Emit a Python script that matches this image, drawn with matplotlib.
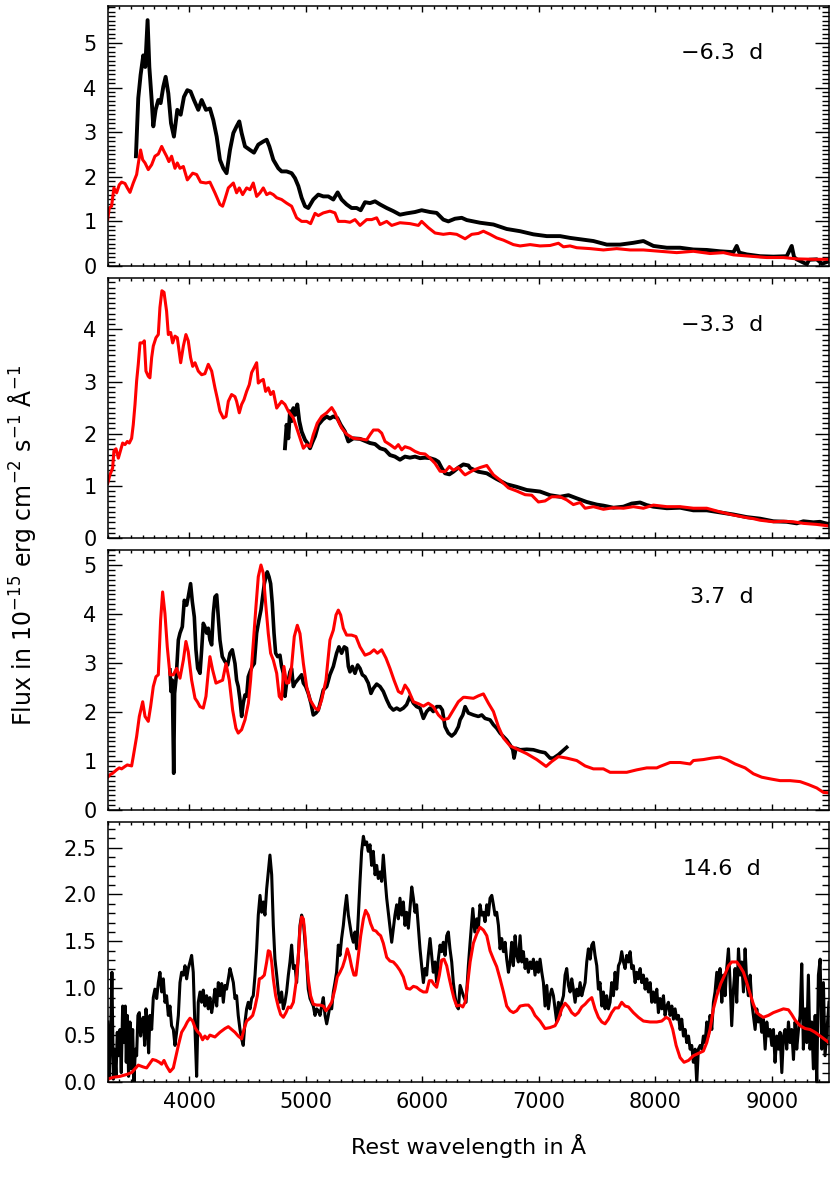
import numpy as np
import matplotlib.pyplot as plt
from matplotlib.ticker import MultipleLocator, FormatStrFormatter

plt.rcParams['font.family'] = ['DejaVu Sans']
plt.rcParams['mathtext.fontset'] = 'dejavusans'

# ---- data: (wavelength [A], flux [1e-15 erg/cm2/s/A]) ----
obs_1 = np.array([
    [3542, 2.46], [3562, 3.76], [3582, 4.28], [3605, 4.72], [3622, 4.46], [3642, 5.51],
    [3657, 4.46], [3677, 3.72], [3691, 3.13], [3711, 3.50], [3734, 3.72], [3754, 3.65],
    [3777, 4.02], [3797, 4.24], [3820, 3.87], [3843, 3.20], [3868, 2.90], [3897, 3.50],
    [3926, 3.39], [3954, 3.79], [3983, 3.94], [4011, 3.91], [4040, 3.72], [4077, 3.50],
    [4106, 3.72], [4143, 3.50], [4177, 3.53], [4206, 3.27], [4235, 2.90], [4263, 2.38],
    [4292, 2.19], [4320, 2.08], [4349, 2.60], [4378, 2.98], [4406, 3.13], [4429, 3.24],
    [4449, 2.98], [4478, 2.68], [4521, 2.60], [4555, 2.54], [4592, 2.72], [4635, 2.79],
    [4664, 2.83], [4687, 2.68], [4721, 2.38], [4764, 2.19], [4792, 2.12], [4835, 2.12],
    [4878, 2.08], [4907, 1.97], [4936, 1.79], [4964, 1.53], [4993, 1.34], [5021, 1.30],
    [5064, 1.49], [5107, 1.60], [5150, 1.56], [5193, 1.56], [5236, 1.49], [5273, 1.65],
    [5307, 1.49], [5350, 1.38], [5393, 1.30], [5436, 1.30], [5471, 1.25], [5508, 1.43],
    [5551, 1.41], [5594, 1.45], [5637, 1.38], [5694, 1.30], [5751, 1.23], [5808, 1.15],
    [5865, 1.18], [5937, 1.21], [5994, 1.25], [6066, 1.21], [6123, 1.19], [6180, 1.04],
    [6223, 1.00], [6280, 1.06], [6338, 1.08], [6381, 1.03], [6495, 0.97], [6610, 0.93],
    [6724, 0.83], [6839, 0.78], [6953, 0.71], [7068, 0.67], [7182, 0.67], [7268, 0.63],
    [7354, 0.60], [7468, 0.56], [7583, 0.48], [7697, 0.48], [7811, 0.52], [7897, 0.56],
    [7983, 0.45], [8098, 0.41], [8212, 0.41], [8326, 0.37], [8441, 0.36], [8555, 0.33],
    [8670, 0.31], [8698, 0.45], [8720, 0.30], [8784, 0.26], [8899, 0.22], [9013, 0.21],
    [9127, 0.22], [9170, 0.45], [9190, 0.20], [9213, 0.15], [9299, 0.04], [9320, 0.14],
    [9385, 0.15], [9430, 0.05], [9471, 0.09], [9490, 0.12],
])
mod_1 = np.array([
    [3300, 1.05], [3313, 1.30], [3333, 1.34], [3353, 1.75], [3376, 1.64], [3399, 1.82],
    [3419, 1.88], [3448, 1.85], [3468, 1.75], [3491, 1.65], [3519, 1.86], [3548, 2.05],
    [3565, 2.34], [3582, 2.60], [3600, 2.38], [3620, 2.31], [3648, 2.16], [3677, 2.27],
    [3705, 2.46], [3734, 2.51], [3763, 2.68], [3783, 2.57], [3805, 2.46], [3825, 2.34],
    [3848, 2.46], [3877, 2.19], [3897, 2.31], [3920, 2.19], [3949, 2.23], [3983, 1.93],
    [4029, 2.08], [4063, 2.05], [4097, 1.88], [4143, 1.86], [4177, 1.88], [4220, 1.64],
    [4263, 1.38], [4286, 1.34], [4306, 1.50], [4335, 1.75], [4378, 1.86], [4406, 1.64],
    [4429, 1.75], [4458, 1.60], [4492, 1.75], [4521, 1.71], [4549, 1.86], [4578, 1.56],
    [4607, 1.64], [4635, 1.75], [4664, 1.60], [4692, 1.64], [4721, 1.60], [4750, 1.53],
    [4792, 1.49], [4835, 1.41], [4878, 1.34], [4921, 1.08], [4964, 1.00], [5007, 1.00],
    [5041, 0.95], [5079, 1.18], [5107, 1.13], [5150, 1.19], [5207, 1.23], [5250, 1.19],
    [5279, 1.00], [5336, 1.00], [5379, 0.98], [5422, 1.04], [5465, 0.91], [5522, 1.04],
    [5565, 1.04], [5608, 1.08], [5637, 0.93], [5694, 1.00], [5737, 0.91], [5808, 0.97],
    [5894, 0.95], [5966, 0.91], [5994, 1.00], [6051, 0.86], [6109, 0.74], [6180, 0.71],
    [6237, 0.73], [6295, 0.71], [6324, 0.67], [6367, 0.61], [6424, 0.71], [6481, 0.73],
    [6524, 0.78], [6581, 0.71], [6638, 0.63], [6696, 0.58], [6781, 0.48], [6839, 0.45],
    [6925, 0.48], [7010, 0.45], [7096, 0.46], [7168, 0.51], [7211, 0.43], [7268, 0.45],
    [7325, 0.41], [7440, 0.39], [7554, 0.36], [7668, 0.39], [7783, 0.36], [7897, 0.36],
    [8040, 0.33], [8183, 0.30], [8326, 0.33], [8469, 0.28], [8584, 0.30], [8670, 0.25],
    [8813, 0.22], [8956, 0.19], [9099, 0.19], [9213, 0.16], [9356, 0.15], [9490, 0.15],
])

obs_2 = np.array([
    [4821, 1.72], [4835, 2.17], [4850, 1.91], [4864, 2.43], [4878, 2.24], [4893, 2.49],
    [4907, 2.36], [4927, 2.56], [4944, 2.24], [4964, 2.04], [4993, 1.88], [5013, 1.82],
    [5036, 1.72], [5059, 1.85], [5079, 1.95], [5107, 2.17], [5145, 2.27], [5179, 2.33],
    [5207, 2.29], [5236, 2.33], [5270, 2.30], [5299, 2.17], [5336, 2.04], [5365, 1.85],
    [5408, 1.91], [5465, 1.90], [5508, 1.86], [5551, 1.82], [5594, 1.80], [5637, 1.72],
    [5680, 1.69], [5722, 1.59], [5765, 1.56], [5808, 1.50], [5851, 1.56], [5894, 1.54],
    [5937, 1.56], [5980, 1.53], [6023, 1.54], [6066, 1.53], [6109, 1.50], [6138, 1.46],
    [6166, 1.34], [6195, 1.24], [6232, 1.22], [6266, 1.27], [6309, 1.35], [6352, 1.41],
    [6395, 1.39], [6410, 1.34], [6481, 1.27], [6553, 1.24], [6638, 1.13], [6724, 1.03],
    [6810, 0.98], [6896, 0.92], [7010, 0.89], [7096, 0.82], [7182, 0.79], [7254, 0.82],
    [7325, 0.76], [7411, 0.69], [7497, 0.64], [7554, 0.62], [7640, 0.58], [7726, 0.60],
    [7797, 0.66], [7869, 0.68], [7926, 0.63], [7983, 0.60], [8098, 0.57], [8212, 0.58],
    [8326, 0.53], [8441, 0.53], [8555, 0.49], [8670, 0.45], [8784, 0.40], [8899, 0.37],
    [9013, 0.32], [9127, 0.31], [9213, 0.28], [9270, 0.32], [9356, 0.30], [9414, 0.31],
    [9490, 0.26],
])
mod_2 = np.array([
    [3300, 1.05], [3319, 1.21], [3342, 1.34], [3353, 1.67], [3371, 1.71], [3391, 1.53],
    [3411, 1.69], [3428, 1.82], [3448, 1.79], [3468, 1.85], [3485, 1.82], [3505, 1.91],
    [3519, 2.17], [3534, 2.56], [3548, 3.01], [3562, 3.33], [3577, 3.74], [3600, 3.74],
    [3614, 3.78], [3628, 3.20], [3648, 3.10], [3662, 3.07], [3677, 3.46], [3691, 3.68],
    [3714, 3.84], [3734, 3.90], [3748, 4.42], [3765, 4.74], [3783, 4.71], [3805, 4.35],
    [3820, 3.90], [3840, 3.94], [3857, 3.74], [3877, 3.87], [3897, 3.84], [3926, 3.36],
    [3949, 3.68], [3971, 3.90], [3991, 3.78], [4011, 3.46], [4029, 3.29], [4049, 3.36],
    [4077, 3.20], [4106, 3.13], [4134, 3.15], [4163, 3.33], [4192, 3.20], [4220, 2.88],
    [4240, 2.68], [4263, 2.43], [4292, 2.30], [4315, 2.33], [4335, 2.62], [4363, 2.75],
    [4392, 2.71], [4406, 2.62], [4429, 2.40], [4449, 2.56], [4469, 2.65], [4492, 2.81],
    [4515, 2.94], [4535, 3.17], [4555, 3.26], [4578, 3.36], [4592, 2.97], [4612, 3.01],
    [4635, 3.04], [4655, 2.81], [4678, 2.88], [4698, 2.75], [4721, 2.81], [4750, 2.49],
    [4792, 2.62], [4821, 2.56], [4850, 2.43], [4893, 2.30], [4936, 2.01], [4979, 1.72],
    [5007, 1.79], [5036, 1.75], [5064, 1.98], [5098, 2.20], [5136, 2.33], [5179, 2.40],
    [5222, 2.50], [5250, 2.40], [5279, 2.24], [5307, 2.11], [5350, 1.99], [5408, 1.91],
    [5465, 1.90], [5522, 1.88], [5551, 1.98], [5580, 2.07], [5622, 2.07], [5651, 2.01],
    [5680, 1.85], [5722, 1.79], [5765, 1.72], [5794, 1.79], [5823, 1.69], [5851, 1.75],
    [5894, 1.72], [5937, 1.66], [5980, 1.62], [6023, 1.61], [6066, 1.53], [6109, 1.43],
    [6152, 1.28], [6195, 1.27], [6232, 1.37], [6266, 1.30], [6309, 1.35], [6352, 1.24],
    [6367, 1.21], [6438, 1.30], [6495, 1.35], [6553, 1.39], [6610, 1.21], [6667, 1.11],
    [6739, 0.96], [6810, 0.90], [6882, 0.83], [6939, 0.82], [6996, 0.69], [7053, 0.71],
    [7110, 0.79], [7182, 0.79], [7239, 0.73], [7296, 0.64], [7354, 0.68], [7397, 0.57],
    [7468, 0.60], [7554, 0.55], [7640, 0.58], [7726, 0.57], [7811, 0.60], [7897, 0.57],
    [7983, 0.63], [8098, 0.60], [8212, 0.60], [8326, 0.57], [8441, 0.57], [8555, 0.50],
    [8670, 0.44], [8784, 0.39], [8841, 0.37], [8899, 0.34], [9013, 0.31], [9099, 0.32],
    [9185, 0.31], [9270, 0.28], [9385, 0.26], [9490, 0.23],
])

obs_3 = np.array([
    [3834, 2.86], [3843, 2.42], [3854, 2.65], [3866, 0.75], [3874, 2.38], [3888, 2.72],
    [3906, 3.47], [3920, 3.61], [3940, 3.74], [3957, 4.28], [3977, 4.18], [3991, 4.35],
    [4011, 4.62], [4026, 4.25], [4043, 3.94], [4057, 3.27], [4072, 2.89], [4092, 2.79],
    [4106, 3.27], [4120, 3.81], [4134, 3.74], [4149, 3.61], [4163, 3.71], [4177, 3.47],
    [4192, 3.37], [4206, 4.01], [4220, 4.35], [4235, 4.39], [4249, 3.94], [4263, 3.47],
    [4283, 3.13], [4306, 3.03], [4329, 2.96], [4349, 3.20], [4369, 3.27], [4392, 2.99],
    [4406, 2.65], [4420, 2.52], [4435, 2.25], [4449, 1.91], [4463, 2.18], [4478, 2.35],
    [4492, 2.32], [4506, 2.72], [4521, 2.82], [4540, 2.93], [4558, 2.99], [4578, 3.61],
    [4598, 3.88], [4615, 4.08], [4629, 4.35], [4644, 4.62], [4658, 4.76], [4669, 4.86],
    [4684, 4.76], [4698, 4.62], [4712, 4.22], [4727, 3.61], [4741, 3.20], [4758, 3.13],
    [4778, 3.16], [4792, 2.93], [4807, 2.79], [4821, 2.32], [4835, 2.59], [4850, 2.65],
    [4864, 2.82], [4878, 2.89], [4893, 2.52], [4907, 2.59], [4927, 2.65], [4950, 2.72],
    [4964, 2.76], [4979, 2.59], [4999, 2.52], [5021, 2.38], [5044, 2.18], [5064, 1.94],
    [5087, 1.98], [5107, 2.04], [5130, 2.25], [5150, 2.45], [5179, 2.52], [5207, 2.76],
    [5236, 2.93], [5264, 3.20], [5284, 3.33], [5307, 3.20], [5330, 3.33], [5350, 3.30],
    [5365, 2.93], [5379, 2.82], [5399, 2.93], [5422, 2.79], [5445, 2.96], [5465, 2.89],
    [5485, 2.76], [5508, 2.72], [5536, 2.59], [5559, 2.38], [5579, 2.48], [5608, 2.57],
    [5637, 2.52], [5665, 2.42], [5694, 2.25], [5722, 2.11], [5751, 2.04], [5780, 2.08],
    [5808, 2.04], [5837, 2.08], [5865, 2.15], [5894, 2.32], [5923, 2.18], [5951, 2.11],
    [5980, 2.08], [6009, 1.87], [6037, 2.01], [6066, 2.08], [6094, 2.01], [6123, 2.11],
    [6152, 2.11], [6172, 2.04], [6195, 1.70], [6223, 1.57], [6252, 1.51], [6280, 1.57],
    [6309, 1.70], [6324, 1.84], [6347, 1.94], [6367, 2.11], [6395, 1.98], [6438, 1.94],
    [6481, 1.91], [6510, 1.94], [6538, 1.87], [6581, 1.84], [6610, 1.74], [6638, 1.67],
    [6667, 1.57], [6696, 1.50], [6724, 1.43], [6753, 1.33], [6776, 1.23], [6787, 1.06],
    [6804, 1.26], [6839, 1.23], [6896, 1.24], [6953, 1.23], [7010, 1.19], [7053, 1.17],
    [7096, 1.06], [7125, 1.06], [7168, 1.13], [7196, 1.19], [7239, 1.28],
])
mod_3 = np.array([
    [3300, 0.67], [3319, 0.72], [3342, 0.75], [3376, 0.82], [3399, 0.86], [3419, 0.84],
    [3448, 0.89], [3468, 0.92], [3505, 0.90], [3519, 1.09], [3548, 1.50], [3571, 1.91],
    [3600, 2.21], [3620, 1.91], [3648, 1.81], [3668, 2.11], [3691, 2.52], [3714, 2.72],
    [3734, 2.76], [3754, 3.88], [3771, 4.45], [3791, 4.01], [3811, 3.33], [3834, 2.76],
    [3863, 2.76], [3891, 2.89], [3920, 2.69], [3949, 3.06], [3971, 3.44], [3991, 3.23],
    [4020, 2.65], [4049, 2.28], [4069, 2.21], [4092, 2.11], [4120, 2.08], [4143, 2.32],
    [4163, 2.82], [4177, 3.13], [4200, 2.86], [4229, 2.59], [4258, 2.62], [4286, 2.65],
    [4315, 2.99], [4343, 2.65], [4372, 2.04], [4400, 1.67], [4420, 1.57], [4449, 1.64],
    [4478, 1.84], [4507, 2.18], [4526, 2.65], [4549, 3.40], [4572, 4.15], [4592, 4.76],
    [4615, 5.00], [4635, 4.83], [4655, 4.22], [4678, 3.60], [4698, 3.20], [4721, 3.06],
    [4750, 2.79], [4772, 2.32], [4792, 2.26], [4812, 2.93], [4835, 2.59], [4855, 2.60],
    [4878, 2.93], [4901, 3.54], [4927, 3.77], [4950, 3.60], [4979, 2.99], [5007, 2.52],
    [5036, 2.25], [5079, 2.08], [5107, 2.04], [5136, 2.25], [5173, 2.65], [5207, 3.47],
    [5236, 3.67], [5259, 3.98], [5279, 4.08], [5299, 3.98], [5322, 3.71], [5350, 3.57],
    [5393, 3.57], [5430, 3.54], [5465, 3.33], [5508, 3.16], [5551, 3.20], [5585, 3.27],
    [5614, 3.20], [5651, 3.27], [5688, 3.10], [5722, 2.89], [5757, 2.65], [5794, 2.42],
    [5823, 2.38], [5851, 2.55], [5880, 2.45], [5923, 2.21], [5966, 2.17], [6009, 2.12],
    [6051, 2.18], [6094, 2.11], [6138, 1.94], [6180, 1.84], [6223, 1.87], [6266, 2.04],
    [6309, 2.21], [6352, 2.30], [6367, 2.30], [6438, 2.28], [6481, 2.33], [6524, 2.37],
    [6567, 2.18], [6610, 2.01], [6653, 1.70], [6696, 1.47], [6753, 1.31], [6824, 1.23],
    [6896, 1.15], [6982, 1.03], [7062, 0.89], [7110, 0.99], [7168, 1.09], [7239, 1.06],
    [7325, 1.01], [7397, 0.90], [7468, 0.84], [7554, 0.84], [7611, 0.77], [7683, 0.77],
    [7754, 0.77], [7840, 0.82], [7926, 0.86], [8012, 0.86], [8040, 0.89], [8126, 0.97],
    [8212, 0.97], [8298, 0.94], [8326, 1.01], [8412, 1.03], [8484, 1.06], [8555, 1.08],
    [8613, 1.03], [8684, 0.94], [8770, 0.86], [8841, 0.74], [8913, 0.67], [8999, 0.63],
    [9070, 0.60], [9156, 0.60], [9242, 0.58], [9313, 0.52], [9385, 0.45], [9442, 0.36],
    [9490, 0.35],
])

obs_4 = np.array([
    [3300, 0.64], [3313, 0.06], [3325, 0.49], [3336, 1.17], [3348, 0.03], [3359, 0.35],
    [3371, 0.06], [3382, 0.53], [3393, 0.28], [3405, 0.56], [3416, 0.10], [3428, 0.81],
    [3439, 0.42], [3451, 0.81], [3459, 0.21], [3468, 0.71], [3479, 0.06], [3491, 0.64],
    [3502, 0.14], [3514, 0.56], [3525, -0.01], [3537, 0.35], [3548, 0.28], [3559, 0.71],
    [3571, 0.74], [3582, 0.49], [3594, 0.64], [3605, 0.69], [3617, 0.39], [3628, 0.78],
    [3640, 0.60], [3651, 0.31], [3662, 0.71], [3677, 0.56], [3691, 0.90], [3705, 0.99],
    [3720, 0.89], [3734, 1.06], [3748, 1.17], [3763, 0.96], [3777, 1.10], [3791, 0.85],
    [3805, 0.92], [3820, 0.71], [3834, 0.81], [3848, 0.60], [3863, 0.56], [3877, 0.39],
    [3891, 0.53], [3906, 0.71], [3920, 1.06], [3934, 1.17], [3949, 1.14], [3963, 1.24],
    [3977, 1.10], [3991, 1.21], [4006, 1.28], [4020, 1.35], [4034, 1.17], [4049, 0.56],
    [4063, 0.06], [4077, 0.85], [4092, 0.96], [4106, 0.85], [4120, 0.98], [4134, 0.81],
    [4149, 0.92], [4163, 0.78], [4177, 0.90], [4192, 0.74], [4206, 0.85], [4220, 0.99],
    [4235, 0.81], [4249, 1.06], [4263, 0.92], [4278, 1.05], [4292, 0.85], [4306, 1.03],
    [4320, 0.99], [4335, 1.10], [4349, 1.21], [4363, 1.14], [4378, 1.06], [4392, 0.89],
    [4406, 0.92], [4420, 0.71], [4435, 0.56], [4449, 0.46], [4463, 0.39], [4478, 0.64],
    [4492, 0.78], [4506, 0.85], [4521, 0.78], [4535, 0.89], [4549, 0.92], [4564, 1.14],
    [4578, 1.42], [4592, 1.78], [4607, 1.99], [4621, 1.81], [4635, 1.92], [4649, 1.78],
    [4664, 2.06], [4678, 2.24], [4692, 2.42], [4707, 2.21], [4721, 1.67], [4735, 1.31],
    [4750, 1.14], [4764, 0.96], [4778, 0.85], [4792, 0.96], [4807, 0.78], [4821, 0.85],
    [4835, 0.96], [4850, 1.14], [4864, 1.28], [4878, 1.46], [4893, 1.21], [4907, 1.24],
    [4921, 1.06], [4936, 1.35], [4950, 1.67], [4964, 1.78], [4979, 1.71], [4993, 1.49],
    [5007, 1.28], [5021, 0.99], [5036, 0.89], [5050, 0.85], [5064, 0.81], [5079, 0.71],
    [5093, 0.78], [5107, 0.76], [5122, 0.71], [5136, 0.81], [5150, 0.90], [5165, 0.71],
    [5179, 0.62], [5193, 0.71], [5207, 0.81], [5222, 0.78], [5236, 0.96], [5250, 1.06],
    [5264, 1.17], [5279, 1.46], [5293, 1.35], [5307, 1.53], [5322, 1.67], [5336, 1.85],
    [5350, 1.99], [5365, 1.78], [5379, 1.67], [5393, 1.56], [5408, 1.49], [5422, 1.60],
    [5436, 1.42], [5451, 1.78], [5465, 2.14], [5479, 2.46], [5494, 2.62], [5508, 2.53],
    [5522, 2.56], [5536, 2.46], [5551, 2.53], [5565, 2.31], [5579, 2.46], [5594, 2.21],
    [5608, 2.31], [5622, 2.17], [5637, 2.24], [5651, 2.14], [5665, 2.42], [5680, 2.17],
    [5694, 1.96], [5708, 1.81], [5722, 1.67], [5737, 1.49], [5751, 1.64], [5765, 1.78],
    [5780, 1.89], [5794, 1.74], [5808, 1.96], [5823, 1.78], [5837, 1.92], [5851, 1.67],
    [5865, 1.81], [5880, 1.64], [5894, 1.85], [5909, 2.08], [5923, 1.96], [5937, 1.81],
    [5951, 1.89], [5966, 1.64], [5980, 1.42], [5994, 1.24], [6009, 1.06], [6023, 1.21],
    [6037, 1.14], [6051, 1.35], [6066, 1.53], [6080, 1.35], [6094, 1.17], [6109, 1.28],
    [6123, 1.06], [6137, 1.31], [6152, 1.46], [6166, 1.39], [6180, 1.49], [6195, 1.35],
    [6209, 1.56], [6223, 1.60], [6237, 1.42], [6252, 1.28], [6266, 1.06], [6280, 0.92],
    [6295, 0.81], [6309, 0.78], [6324, 1.03], [6352, 0.92], [6375, 0.85], [6395, 1.24],
    [6410, 1.49], [6433, 1.85], [6450, 1.60], [6467, 1.74], [6481, 1.64], [6495, 1.89],
    [6510, 1.78], [6524, 1.81], [6538, 1.71], [6553, 1.89], [6567, 1.78], [6581, 1.96],
    [6596, 1.99], [6610, 1.89], [6624, 1.78], [6638, 1.81], [6653, 1.67], [6667, 1.42],
    [6681, 1.53], [6696, 1.39], [6710, 1.49], [6724, 1.31], [6739, 1.17], [6753, 1.28],
    [6767, 1.49], [6781, 1.24], [6796, 1.56], [6810, 1.35], [6824, 1.28], [6839, 1.56],
    [6853, 1.28], [6867, 1.39], [6882, 1.21], [6896, 1.31], [6910, 1.17], [6925, 1.28],
    [6939, 1.21], [6953, 1.31], [6967, 1.14], [6982, 1.28], [6996, 1.17], [7010, 1.31],
    [7025, 1.17], [7039, 1.06], [7053, 0.81], [7068, 1.03], [7082, 0.78], [7096, 0.92],
    [7110, 0.99], [7125, 0.92], [7139, 0.78], [7153, 0.64], [7168, 0.85], [7182, 0.71],
    [7196, 0.85], [7211, 0.92], [7225, 1.14], [7239, 1.21], [7254, 1.03], [7268, 0.96],
    [7282, 1.10], [7296, 0.99], [7311, 0.85], [7325, 0.99], [7339, 0.92], [7354, 1.06],
    [7368, 0.92], [7382, 0.99], [7397, 1.06], [7411, 1.28], [7425, 1.42], [7440, 1.31],
    [7454, 1.46], [7468, 1.49], [7482, 1.35], [7497, 1.24], [7511, 0.99], [7525, 1.06],
    [7540, 0.81], [7554, 0.96], [7568, 0.78], [7582, 0.92], [7597, 0.78], [7611, 0.85],
    [7625, 1.06], [7640, 0.92], [7654, 1.17], [7668, 0.99], [7683, 1.24], [7697, 1.28],
    [7711, 1.39], [7726, 1.28], [7740, 1.21], [7754, 1.35], [7769, 1.28], [7783, 1.39],
    [7797, 1.21], [7811, 1.24], [7826, 1.06], [7840, 1.17], [7854, 1.10], [7869, 1.21],
    [7883, 1.06], [7897, 1.14], [7912, 0.99], [7926, 1.10], [7940, 0.96], [7955, 1.06],
    [7969, 0.85], [7983, 0.96], [7997, 0.85], [8012, 0.99], [8026, 0.74], [8040, 0.89],
    [8055, 0.78], [8069, 0.92], [8083, 0.71], [8098, 0.81], [8112, 0.85], [8126, 0.71],
    [8141, 0.81], [8155, 0.67], [8169, 0.78], [8183, 0.67], [8198, 0.71], [8212, 0.56],
    [8226, 0.67], [8241, 0.49], [8255, 0.56], [8269, 0.42], [8284, 0.49], [8298, 0.35],
    [8312, 0.39], [8326, 0.21], [8341, 0.35], [8355, -0.01], [8369, 0.35], [8384, 0.39],
    [8398, 0.35], [8412, 0.49], [8427, 0.42], [8441, 0.64], [8455, 0.49], [8469, 0.71],
    [8484, 0.56], [8498, 0.85], [8512, 0.96], [8527, 1.17], [8541, 0.99], [8555, 1.21],
    [8570, 0.85], [8584, 1.14], [8598, 0.92], [8612, 1.21], [8627, 1.42], [8641, 1.06],
    [8655, 0.60], [8670, 0.99], [8684, 1.21], [8698, 0.85], [8713, 1.42], [8727, 1.14],
    [8741, 1.28], [8756, 0.96], [8770, 1.42], [8784, 1.06], [8798, 0.92], [8813, 1.14],
    [8827, 0.85], [8841, 0.71], [8856, 0.56], [8870, 0.78], [8884, 0.64], [8899, 0.71],
    [8913, 0.53], [8927, 0.67], [8942, 0.35], [8956, 0.64], [8970, 0.49], [8984, 0.56],
    [8999, 0.39], [9013, 0.56], [9027, 0.21], [9042, 0.49], [9056, 0.35], [9070, 0.53],
    [9085, 0.10], [9099, 0.49], [9113, 0.56], [9127, 0.35], [9142, 0.64], [9156, 0.42],
    [9170, 0.56], [9185, 0.24], [9199, 0.64], [9213, 0.35], [9228, 0.56], [9242, 0.71],
    [9256, 1.26], [9270, 0.35], [9285, 0.78], [9299, 0.42], [9313, 1.14], [9327, 0.35],
    [9342, 0.64], [9356, 0.14], [9371, 0.71], [9385, -0.01], [9399, 1.14], [9414, 1.31],
    [9428, 0.35], [9442, 1.06], [9456, 0.28], [9471, 0.53], [9490, 0.85],
])
mod_4 = np.array([
    [3300, 0.03], [3348, 0.05], [3405, 0.06], [3462, 0.08], [3505, 0.10], [3534, 0.14],
    [3562, 0.18], [3605, 0.16], [3634, 0.15], [3657, 0.19], [3685, 0.24], [3714, 0.23],
    [3743, 0.21], [3763, 0.19], [3783, 0.23], [3805, 0.17], [3834, 0.11], [3863, 0.15],
    [3886, 0.28], [3906, 0.39], [3934, 0.53], [3963, 0.59], [3983, 0.64], [4006, 0.68],
    [4029, 0.65], [4049, 0.58], [4069, 0.54], [4092, 0.51], [4114, 0.45], [4134, 0.49],
    [4155, 0.46], [4177, 0.50], [4220, 0.48], [4263, 0.53], [4306, 0.57], [4335, 0.59],
    [4363, 0.56], [4392, 0.53], [4420, 0.49], [4449, 0.46], [4469, 0.56], [4492, 0.65],
    [4521, 0.68], [4544, 0.71], [4564, 0.80], [4584, 0.92], [4601, 1.10], [4621, 1.11],
    [4644, 1.14], [4664, 1.28], [4678, 1.40], [4692, 1.39], [4707, 1.28], [4721, 1.10],
    [4741, 0.92], [4764, 0.80], [4784, 0.72], [4807, 0.69], [4830, 0.74], [4850, 0.80],
    [4870, 0.79], [4893, 0.85], [4916, 1.06], [4936, 1.35], [4950, 1.64], [4964, 1.76],
    [4979, 1.74], [4993, 1.56], [5007, 1.31], [5021, 1.10], [5041, 0.92], [5064, 0.83],
    [5093, 0.82], [5122, 0.82], [5150, 0.81], [5173, 0.76], [5193, 0.79], [5222, 0.85],
    [5250, 0.99], [5270, 1.12], [5293, 1.17], [5316, 1.23], [5336, 1.31], [5356, 1.42],
    [5373, 1.35], [5393, 1.23], [5413, 1.14], [5430, 1.14], [5451, 1.35], [5471, 1.56],
    [5494, 1.74], [5513, 1.83], [5536, 1.78], [5556, 1.69], [5579, 1.62], [5602, 1.61],
    [5622, 1.58], [5642, 1.56], [5665, 1.48], [5694, 1.33], [5722, 1.29], [5751, 1.28],
    [5780, 1.24], [5808, 1.19], [5837, 1.12], [5865, 1.00], [5894, 0.99], [5923, 1.02],
    [5951, 1.01], [5980, 0.98], [6009, 0.96], [6037, 0.96], [6060, 1.08], [6080, 1.08],
    [6100, 1.04], [6123, 1.01], [6146, 1.14], [6166, 1.30], [6186, 1.31], [6209, 1.24],
    [6232, 1.10], [6252, 0.99], [6272, 0.89], [6295, 0.81], [6324, 0.82], [6347, 0.80],
    [6367, 0.85], [6387, 1.03], [6410, 1.28], [6438, 1.48], [6467, 1.58], [6495, 1.65],
    [6524, 1.62], [6553, 1.56], [6581, 1.40], [6610, 1.31], [6638, 1.23], [6667, 1.10],
    [6696, 0.96], [6724, 0.81], [6753, 0.76], [6781, 0.74], [6810, 0.76], [6839, 0.81],
    [6882, 0.82], [6910, 0.82], [6939, 0.78], [6967, 0.71], [7010, 0.65], [7053, 0.57],
    [7096, 0.58], [7139, 0.60], [7168, 0.67], [7196, 0.78], [7225, 0.84], [7254, 0.80],
    [7282, 0.74], [7311, 0.71], [7339, 0.74], [7368, 0.80], [7397, 0.83], [7425, 0.87],
    [7454, 0.90], [7482, 0.78], [7511, 0.69], [7540, 0.64], [7568, 0.62], [7597, 0.67],
    [7625, 0.74], [7654, 0.79], [7683, 0.79], [7711, 0.85], [7740, 0.81], [7769, 0.80],
    [7811, 0.74], [7854, 0.69], [7897, 0.65], [7955, 0.64], [8012, 0.64], [8055, 0.65],
    [8092, 0.69], [8120, 0.67], [8149, 0.56], [8178, 0.39], [8212, 0.26], [8246, 0.21],
    [8284, 0.23], [8326, 0.28], [8378, 0.31], [8412, 0.33], [8441, 0.42], [8469, 0.56],
    [8498, 0.78], [8527, 0.92], [8561, 1.05], [8598, 1.15], [8627, 1.24], [8655, 1.28],
    [8698, 1.28], [8727, 1.23], [8756, 1.17], [8784, 1.06], [8813, 0.94], [8841, 0.83],
    [8870, 0.74], [8899, 0.71], [8927, 0.69], [8970, 0.71], [9013, 0.74], [9056, 0.76],
    [9099, 0.78], [9142, 0.77], [9170, 0.72], [9199, 0.66], [9242, 0.60], [9285, 0.57],
    [9327, 0.56], [9371, 0.53], [9414, 0.49], [9456, 0.45], [9490, 0.42],
])

epochs = ["\u22126.3  d", "\u22123.3  d", "3.7  d", "14.6  d"]
y_tops = [5.82, 4.98, 5.3, 2.77]

# ---- figure ----
fig = plt.figure(figsize=(8.3, 11.86), dpi=100)
left, width = 0.1298, 0.869
bottoms = [0.7757, 0.5464, 0.3170, 0.0877]
height = 0.2190

pairs = [(obs_1, mod_1), (obs_2, mod_2), (obs_3, mod_3), (obs_4, mod_4)]
black_lw = [2.8, 2.8, 2.6, 2.2]
axes = []
for i, (obs, mod) in enumerate(pairs):
    ax = fig.add_axes([left, bottoms[i], width, height])
    ax.plot(obs[:, 0], obs[:, 1], color='black', lw=black_lw[i])
    ax.plot(mod[:, 0], mod[:, 1], color='red', lw=2.2)
    ax.set_xlim(3300, 9490)
    ax.set_ylim(0, y_tops[i])
    ax.xaxis.set_major_locator(MultipleLocator(1000))
    ax.xaxis.set_minor_locator(MultipleLocator(100))
    if i == 3:
        ax.yaxis.set_major_locator(MultipleLocator(0.5))
        ax.yaxis.set_major_formatter(FormatStrFormatter('%.1f'))
    else:
        ax.yaxis.set_major_locator(MultipleLocator(1))
        ax.yaxis.set_major_formatter(FormatStrFormatter('%d'))
    ax.yaxis.set_minor_locator(MultipleLocator(0.1))
    ax.tick_params(axis='both', which='both', direction='in', top=True, right=True,
                   labelsize=15, width=1.0, color='black')
    ax.tick_params(axis='y', which='major', length=10, pad=8)
    ax.tick_params(axis='y', which='minor', length=5)
    ax.tick_params(axis='x', which='major', length=4.5, pad=7)
    ax.tick_params(axis='x', which='minor', length=2.2)
    if i < 3:
        ax.tick_params(axis='x', labelbottom=False)
    for s in ax.spines.values():
        s.set_linewidth(1.1)
    ax.text(0.852, 0.82, epochs[i], transform=ax.transAxes, ha='center', va='center',
            fontsize=16)
    axes.append(ax)

axes[3].set_xlabel("Rest wavelength in \u00c5", fontsize=16, labelpad=16)
fig.text(0.026, 0.54, r"Flux in 10$^{-15}$ erg cm$^{-2}$ s$^{-1}$ $\mathrm{\AA}^{-1}$",
         rotation=90, ha='center', va='center', fontsize=17)

fig.savefig("out.png", dpi=100)
